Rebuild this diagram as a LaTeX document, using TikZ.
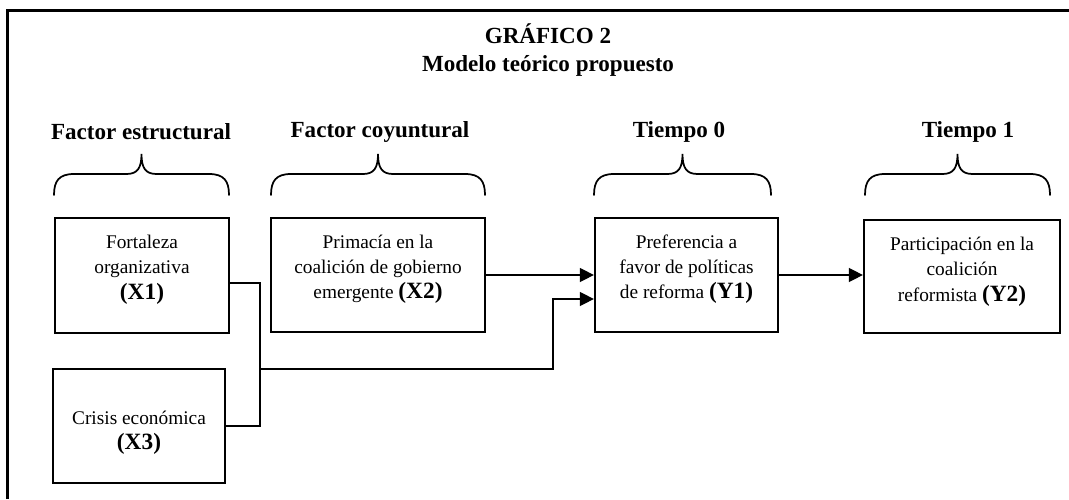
\documentclass[tikz,border=0pt]{standalone}
\usepackage{fontspec}
\setmainfont{Liberation Serif}
\usetikzlibrary{arrows.meta}

\tikzset{
	var/.style={draw, line width=1.7pt, align=center, inner sep=0pt,
		font=\fontsize{14.5}{19}\selectfont},
	head/.style={font=\fontsize{17.3}{21}\selectfont\bfseries, align=center},
	link/.style={line width=1.1pt},
	tip/.style={-{Triangle[length=10.5pt,width=10.5pt]}},
	brace/.style={line width=1.3pt, line cap=round}
}
\newcommand{\vlab}[1]{{\fontsize{17.5}{19}\selectfont\bfseries(#1)}}

\begin{document}
\begin{tikzpicture}[x=0.75pt, y=-0.75pt]
			\useasboundingbox (0,0) rectangle (1069,499);
			\draw[line width=2.5pt] (7.5,499) -- (7.5,10.5) -- (1069,10.5);

			% title
			\node[head] (title) at (548,50) {GRÁFICO 2\\Modelo teórico propuesto};

			% variables
			\node[var, minimum width=130.5pt, minimum height=86.25pt] (x1) at (142,275.5)
				{Fortaleza\\organizativa\\\vlab{X1}\\[-6.5pt]};
			\node[var, minimum width=160.5pt, minimum height=85.5pt] (x2) at (378,275)
				{Primacía en la\\coalición de gobierno\\emergente \vlab{X2}\\[-6.5pt]};
			\node[var, minimum width=129pt, minimum height=85.5pt] (x3) at (139,426)
				{\\[1pt]Crisis económica\\\vlab{X3}};
			\node[var, minimum width=137.25pt, minimum height=86pt] (y1) at (686.5,275)
				{Preferencia a\\favor de políticas\\de reforma \vlab{Y1}\\[-6.5pt]};
			\node[var, minimum width=147pt, minimum height=84.75pt] (y2) at (962,276.5)
				{Participación en la\\coalición\\reformista \vlab{Y2}\\[-8pt]};

			% headings and braces
			\node[head] (h1) at (141,132) {Factor estructural};
			\node[head] (h2) at (380,132) {Factor coyuntural};
			\node[head] (h3) at (679,132) {Tiempo 0};
			\node[head] (h4) at (968,132) {Tiempo 1};
			\foreach \l/\r in {54/229, 271/485, 594/771, 865/1050} {
				\pgfmathsetmacro{\m}{(\l+\r)/2}
				\draw[brace] (\l,195) .. controls (\l,181) and (\l+5,174) .. (\l+20,174)
					-- (\m-15,174) .. controls (\m-4,174) and (\m,168) .. (\m,154)
					.. controls (\m,168) and (\m+4,174) .. (\m+15,174)
					-- (\r-20,174) .. controls (\r-5,174) and (\r,181) .. (\r,195);
			}

			% connectors
			\coordinate (merge) at (260,369);
			\coordinate (bend) at (553,369);
			\draw[link] ([yshift=-5.6pt]x1.east) -| (merge) |- (x3.east);
			\draw[link, tip] (merge) -- (bend) |- ([yshift=-18pt]y1.west);
			\draw[link, tip] (x2.east) -- (x2.east -| y1.west);
			\draw[link, tip] (y1.east) -- (y1.east -| y2.west);
		\end{tikzpicture}
\end{document}
